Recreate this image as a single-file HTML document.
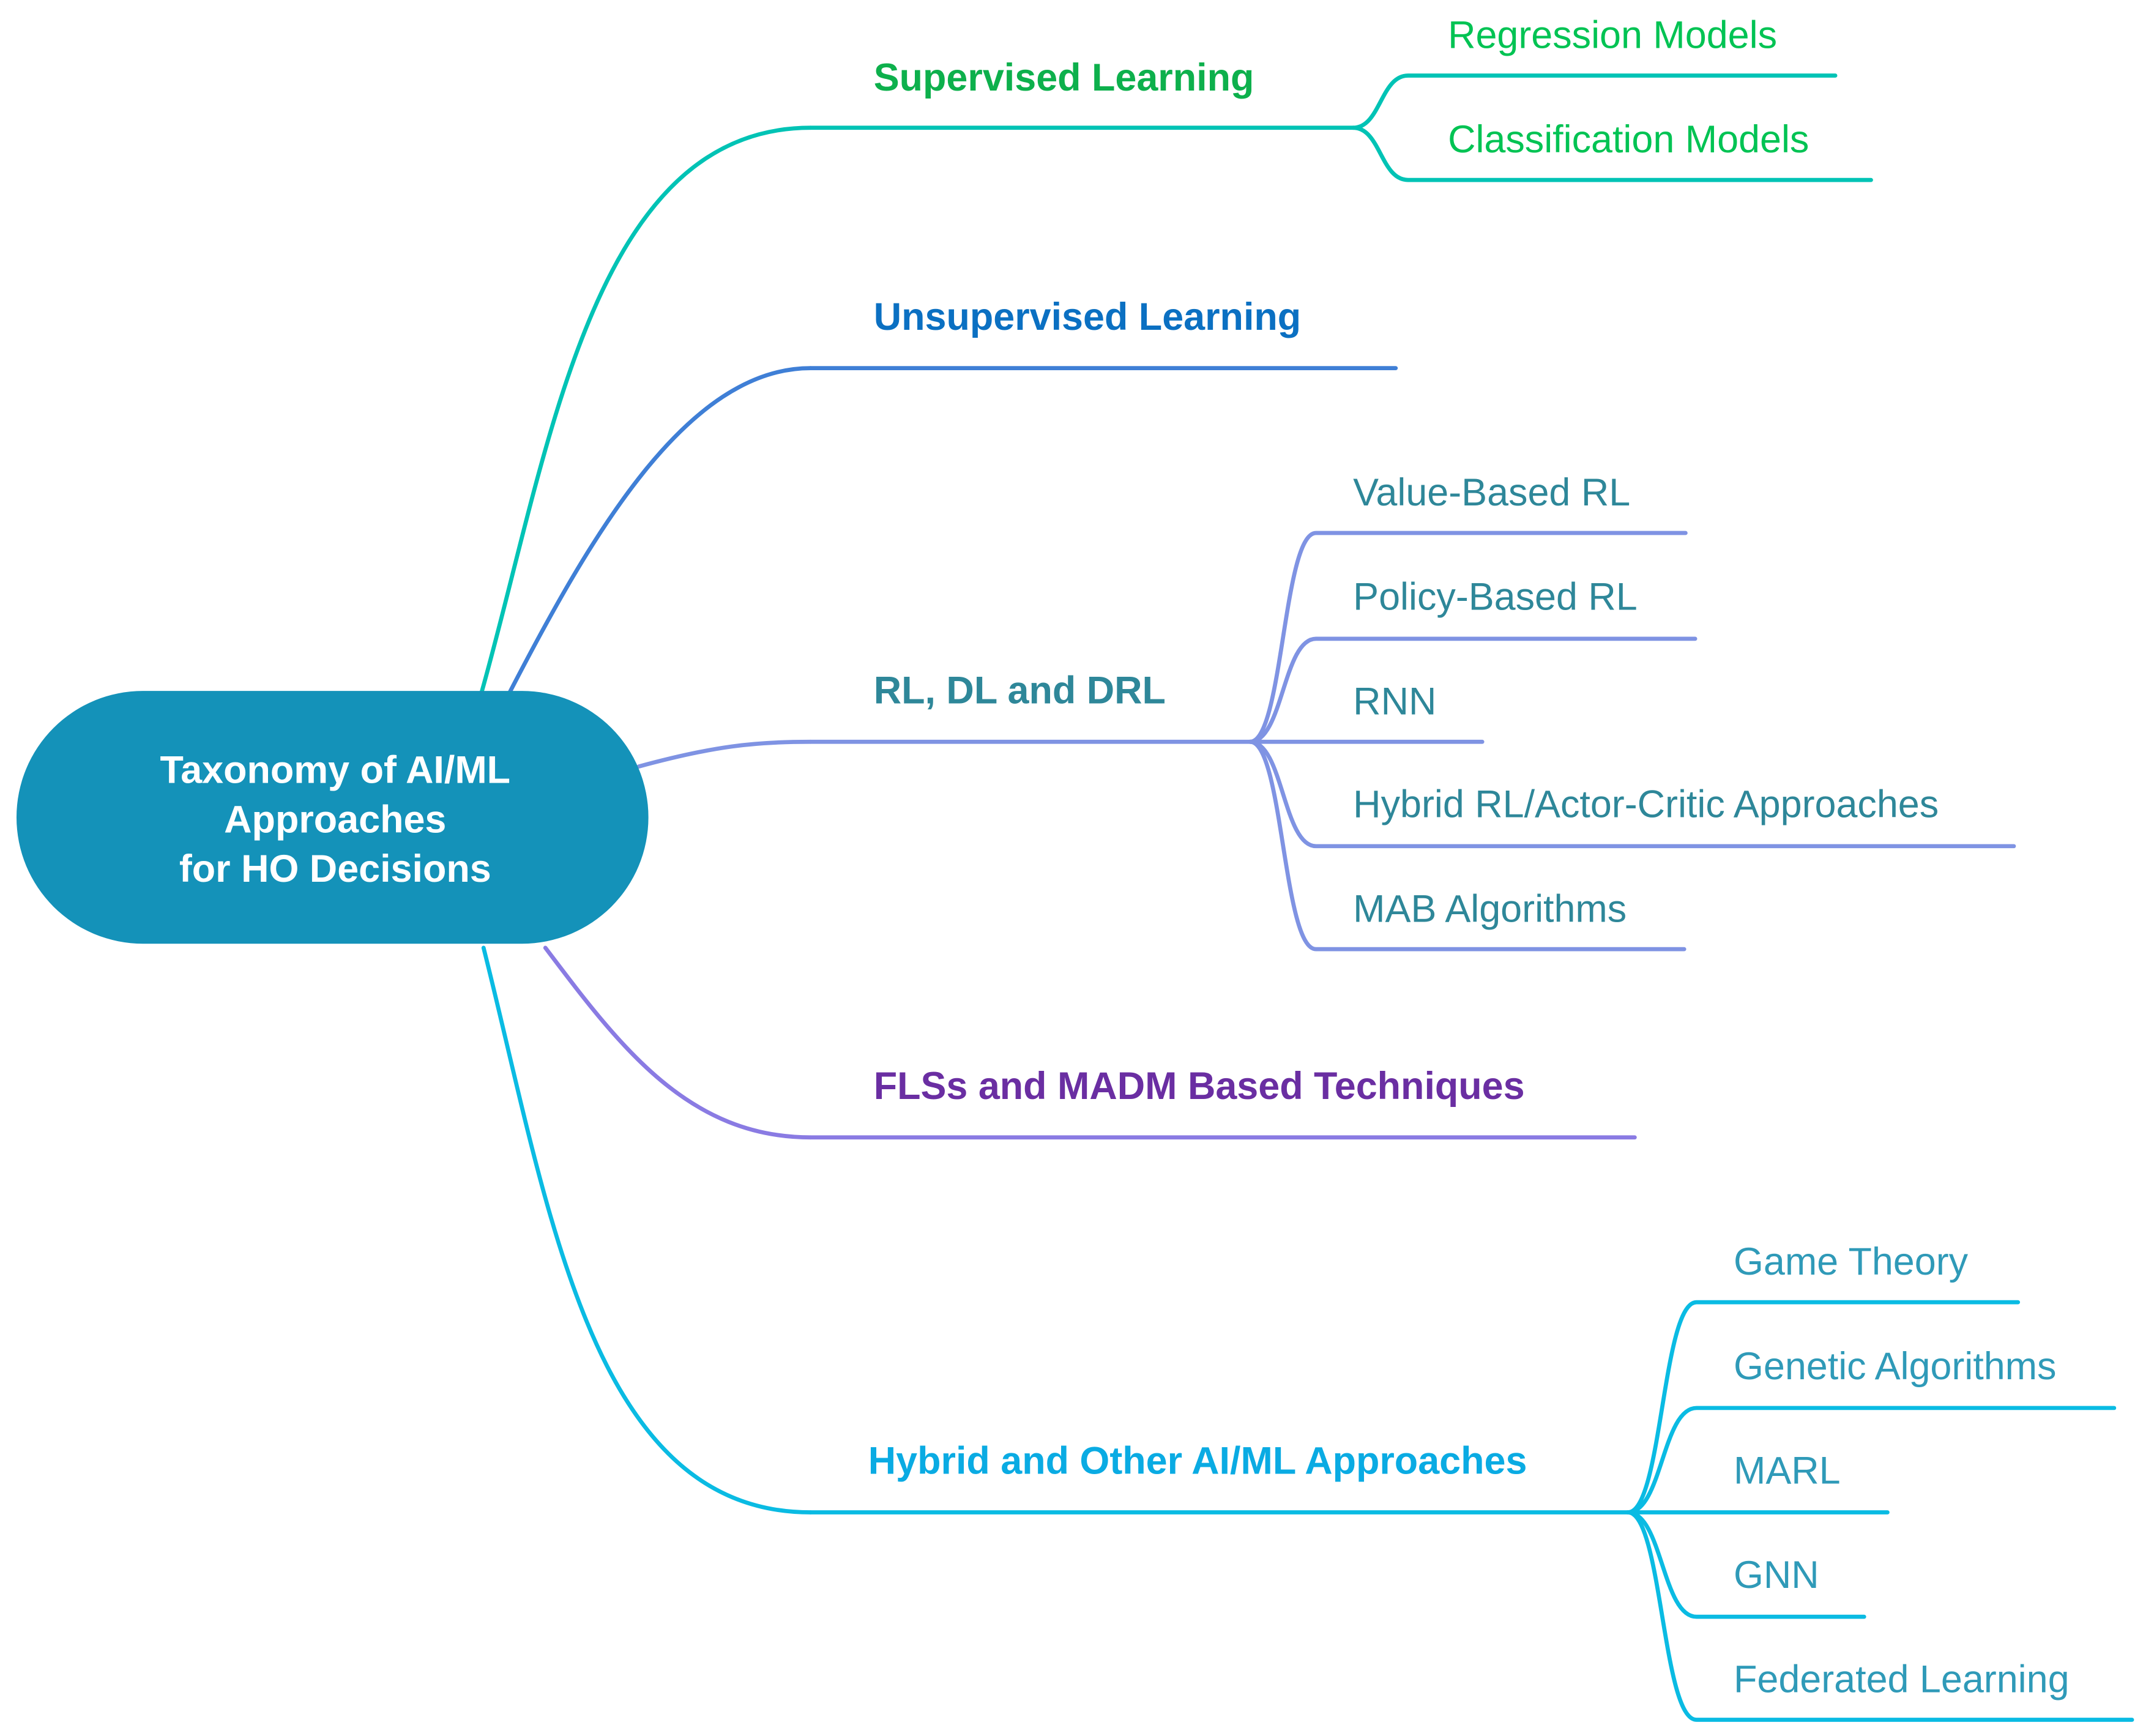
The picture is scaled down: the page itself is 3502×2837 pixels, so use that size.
<!DOCTYPE html>
<html><head><meta charset="utf-8"><style>
html,body{margin:0;padding:0;background:#fff;}
svg{display:block;}
text{font-family:"Liberation Sans",Arial,sans-serif;}
</style></head><body>
<svg width="3502" height="2837" viewBox="0 0 1560 1263.8" xmlns="http://www.w3.org/2000/svg">
<g fill="none" stroke-width="3" stroke-linecap="round">
<!-- root edges -->
<path d="M350,506 C400,330 430,93 590,93" stroke="#00c3b5"/>
<path d="M370,506 C430,390 500,268 590,268" stroke="#3f7fd6"/>
<path d="M465,558 C520,543 550,540 590,540" stroke="#7f93e3"/>
<path d="M397,690 C450,760 500,828 590,828" stroke="#8a7be3"/>
<path d="M352,690 C400,880 430,1101 590,1101" stroke="#0abbe3"/>
<!-- underlines -->
<path d="M590,93 H985" stroke="#00c3b5"/>
<path d="M590,268 H1016" stroke="#3f7fd6"/>
<path d="M590,540 H910" stroke="#7f93e3"/>
<path d="M590,828 H1190" stroke="#8a7be3"/>
<path d="M590,1101 H1185" stroke="#0abbe3"/>
<!-- supervised children -->
<g stroke="#00c3b5">
<path d="M985,93 C1005,93 1005,55 1025,55 H1336"/>
<path d="M985,93 C1005,93 1005,131 1025,131 H1362"/>
</g>
<!-- RL children -->
<g stroke="#7f93e3">
<path d="M910,540 C934,540 934,388 958,388 H1227"/>
<path d="M910,540 C934,540 934,465 958,465 H1234"/>
<path d="M910,540 C934,540 934,540 958,540 H1079"/>
<path d="M910,540 C934,540 934,616 958,616 H1466"/>
<path d="M910,540 C934,540 934,691 958,691 H1226"/>
</g>
<!-- hybrid children -->
<g stroke="#0abbe3">
<path d="M1185,1101 C1210,1101 1210,948 1235,948 H1469"/>
<path d="M1185,1101 C1210,1101 1210,1025 1235,1025 H1539"/>
<path d="M1185,1101 C1210,1101 1210,1101 1235,1101 H1374"/>
<path d="M1185,1101 C1210,1101 1210,1177 1235,1177 H1357"/>
<path d="M1185,1101 C1210,1101 1210,1252 1235,1252 H1552"/>
</g>
</g>
<!-- root node -->
<rect x="12" y="503" width="460" height="184" rx="92" ry="92" fill="#1492b9"/>
<g fill="#fff" font-weight="bold" font-size="28" text-anchor="middle">
<text x="244" y="570">Taxonomy of AI/ML</text>
<text x="244" y="606">Approaches</text>
<text x="244" y="642">for HO Decisions</text>
</g>
<!-- level 1 labels -->
<g font-weight="bold" font-size="28">
<text x="636" y="66" fill="#0db04c">Supervised Learning</text>
<text x="636" y="240" fill="#0b70c2">Unsupervised Learning</text>
<text x="636" y="512" fill="#2e8799">RL, DL and DRL</text>
<text x="636" y="800" fill="#6a2ea2">FLSs and MADM Based Techniques</text>
<text x="632" y="1073" fill="#0aabe3">Hybrid and Other AI/ML Approaches</text>
</g>
<!-- leaf labels -->
<g font-size="28">
<g fill="#00c353">
<text x="1054" y="35">Regression Models</text>
<text x="1054" y="111">Classification Models</text>
</g>
<g fill="#2e8799">
<text x="985" y="368">Value-Based RL</text>
<text x="985" y="444">Policy-Based RL</text>
<text x="985" y="520">RNN</text>
<text x="985" y="595">Hybrid RL/Actor-Critic Approaches</text>
<text x="985" y="671">MAB Algorithms</text>
</g>
<g fill="#2f9ab8">
<text x="1262" y="928">Game Theory</text>
<text x="1262" y="1004">Genetic Algorithms</text>
<text x="1262" y="1080">MARL</text>
<text x="1262" y="1156">GNN</text>
<text x="1262" y="1232">Federated Learning</text>
</g>
</g>
</svg>
</body></html>
